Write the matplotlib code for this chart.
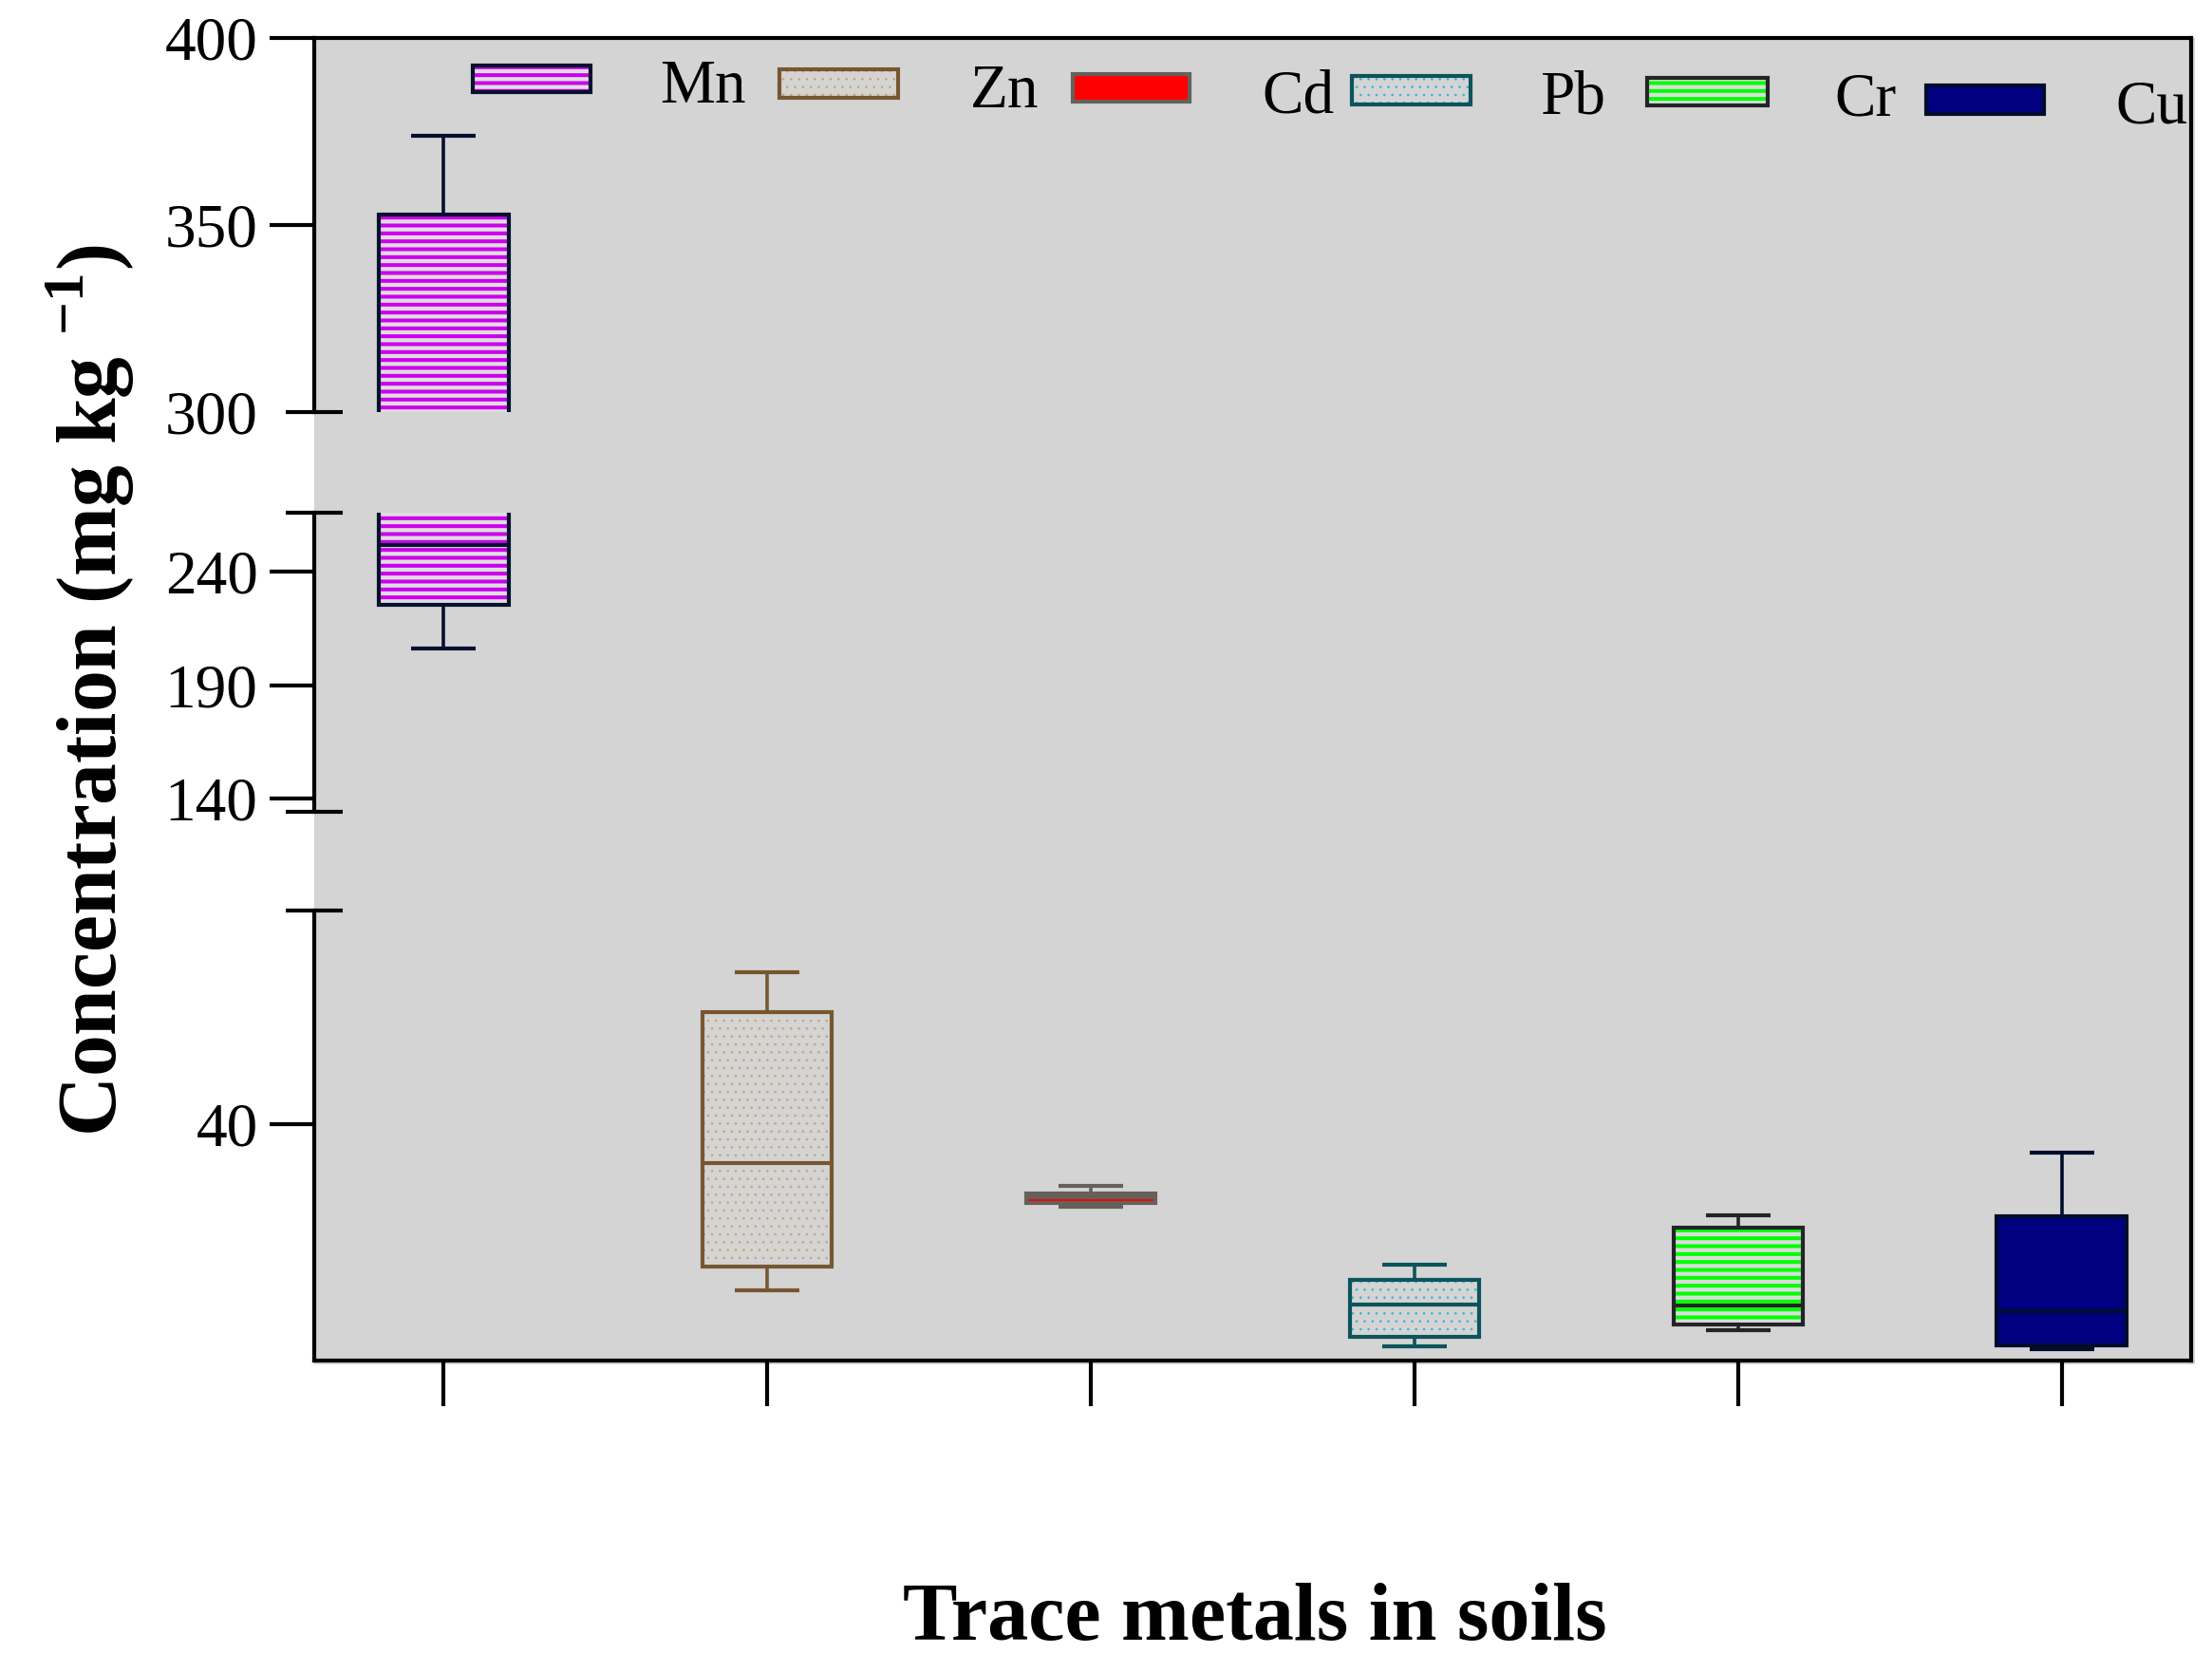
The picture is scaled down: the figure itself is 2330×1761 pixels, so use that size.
import matplotlib
matplotlib.use("Agg")
import matplotlib.pyplot as plt
from matplotlib.patches import Rectangle

# ---------------- data ----------------
metals = ["Mn", "Zn", "Cd", "Pb", "Cr", "Cu"]
q1 = [225.3, 15.8, 26.7, 3.95, 6.05, 2.56]
med = [251.8, 33.4, 27.6, 9.47, 9.3, 8.3]
q3 = [352.9, 59.0, 28.3, 13.6, 22.4, 24.4]
whislo = [206.1, 11.9, 26.0, 2.4, 5.1, 1.9]
whishi = [373.8, 65.7, 29.5, 16.2, 24.5, 35.2]

# segments of the broken y axis: (low, high, tick values)
seg_ranges = [(300, 400), (134.2, 266.2), (0, 76.1)]
seg_ticks = [[300, 350, 400], [140, 190, 240], [40]]

# ---------------- styles ----------------
face_colors = ["#dedede", "#d4d4d4", "#ff0000", "#d4d4d4", "#dcdcdc", "#000080"]
edge_colors = ["#06102e", "#775731", "#64615b", "#0c545c", "#222428", "#000c2c"]
hatch_colors = ["#cc00ee", "#c8a46e", None, "#2ab8d8", "#00ff00", None]
hatches = ["--", "..", None, "..", "--", None]

plt.rcParams["font.family"] = ["Liberation Serif", "DejaVu Serif"]
plt.rcParams["mathtext.fontset"] = "custom"
plt.rcParams["mathtext.rm"] = "Liberation Serif"
plt.rcParams["mathtext.bf"] = "Liberation Serif:bold"
plt.rcParams["hatch.linewidth"] = 2.9

W, H, DPI = 2330, 1761, 100
fig = plt.figure(figsize=(W / DPI, H / DPI), dpi=DPI)
fig.patch.set_facecolor("white")


def fx(px):
    return px / W


def fy(py):
    return 1 - py / H


L, R, T, B = 331, 2308, 40, 1432.6
seg_px = [(40, 434), (539.6, 854.8), (959.4, 1432.6)]  # (top px, bottom px)
positions = list(range(1, len(metals) + 1))
XLIM = (0.6, 6.4)

# grey "shadow" slightly bigger than the frame
fig.add_artist(Rectangle((fx(L), fy(B + 4)), fx(R + 4) - fx(L), fy(T) - fy(B + 4),
                         transform=fig.transFigure, facecolor="#d4d4d4",
                         edgecolor="none", zorder=-5))

bg = fig.add_axes([fx(L), fy(B), fx(R) - fx(L), fy(T) - fy(B)])
bg.set_facecolor("#d4d4d4")
bg.set_xlim(*XLIM)
bg.set_ylim(0, 1)
bg.set_yticks([])
bg.set_xticks(positions)
bg.set_xticklabels([])
bg.tick_params(axis="x", direction="out", length=34.5, width=3, color="black")
bg.spines["left"].set_visible(False)
for s in ["top", "right", "bottom"]:
    bg.spines[s].set_linewidth(3)
    bg.spines[s].set_color("black")

stats = [dict(med=m, q1=a, q3=b, whislo=lo, whishi=hi, fliers=[], label=n)
         for n, a, m, b, lo, hi in zip(metals, q1, med, q3, whislo, whishi)]

dx = 30 / (R - L)
hatch_lw_small = 0.6
nseg = len(seg_ranges)

for k, ((lo, hi), ticks, (ptop, pbot)) in enumerate(zip(seg_ranges, seg_ticks, seg_px)):
    ax = fig.add_axes([fx(L), fy(pbot), fx(R) - fx(L), fy(ptop) - fy(pbot)])
    ax.set_facecolor("none")
    ax.set_xlim(*XLIM)
    ax.set_ylim(lo, hi)
    for s in ["top", "right", "bottom"]:
        ax.spines[s].set_visible(False)
    ax.spines["left"].set_linewidth(3)
    ax.spines["left"].set_color("black")
    ax.set_xticks([])
    ax.set_yticks(ticks)
    ax.set_yticklabels([str(t) for t in ticks])
    ax.tick_params(axis="y", direction="out", length=33.8, width=3, labelsize=47,
                   pad=9, color="black")
    if k == 0:
        ax.yaxis.get_major_ticks()[0].tick1line.set_visible(False)

    # break marks (only where the axis is interrupted)
    ends = []
    if k > 0:
        ends.append(1)
    if k < nseg - 1:
        ends.append(0)
    for e in ends:
        ax.plot([-dx, dx], [e, e], transform=ax.transAxes, color="black", lw=3,
                clip_on=False, solid_capstyle="butt", zorder=10)

    # pass 1: fill + hatch
    b1 = ax.bxp(stats, positions=positions, widths=0.4, patch_artist=True,
                showcaps=False, showfliers=False, manage_ticks=False,
                boxprops=dict(linewidth=0), zorder=2)
    for ln in b1["whiskers"] + b1["medians"]:
        ln.set_visible(False)
    for i, patch in enumerate(b1["boxes"]):
        patch.set_facecolor(face_colors[i])
        if hatches[i]:
            patch.set_edgecolor(hatch_colors[i])
            patch.set_hatch(hatches[i])
            if hatches[i] == ".." and hasattr(patch, "set_hatch_linewidth"):
                patch.set_hatch_linewidth(hatch_lw_small)
        else:
            patch.set_edgecolor(face_colors[i])
        patch.set_linewidth(0)

    # pass 2: outlines, whiskers, caps, medians
    b2 = ax.bxp(stats, positions=positions, widths=0.4, patch_artist=True,
                showfliers=False, manage_ticks=False,
                boxprops=dict(facecolor="none", linewidth=3),
                whiskerprops=dict(linewidth=2.6),
                capprops=dict(linewidth=3),
                medianprops=dict(linewidth=3), zorder=3)
    for i in range(len(metals)):
        c = edge_colors[i]
        b2["boxes"][i].set_edgecolor(c)
        b2["boxes"][i].set_facecolor("none")
        for ln in (b2["whiskers"][2 * i], b2["whiskers"][2 * i + 1],
                   b2["caps"][2 * i], b2["caps"][2 * i + 1], b2["medians"][i]):
            ln.set_color(c)
            ln.set_solid_capstyle("butt")

# ---------------- legend (manual, staggered as in the original) ----------------
leg_patch_px = [(496, 624, 67.3, 99.3), (818.5, 947.8, 71, 104.7), (1127.5, 1255.5, 76, 109.3),
                (1421.7, 1551, 78.3, 111.7), (1733, 1863.6, 80, 112.7), (2027, 2155, 88.3, 121.7)]
leg_text_px = [(695, 108), (1021.6, 112.7), (1329, 118.3), (1622, 119.3), (1932.5, 121), (2228, 130)]

for i, name in enumerate(metals):
    x0, x1, y0, y1 = leg_patch_px[i]
    x0 += 2; x1 -= 2; y0 += 2; y1 -= 2
    rx, ry = fx(x0), fy(y1)
    rw, rh = fx(x1) - fx(x0), fy(y0) - fy(y1)
    fill = Rectangle((rx, ry), rw, rh, transform=fig.transFigure,
                     facecolor=face_colors[i],
                     edgecolor=hatch_colors[i] if hatches[i] else face_colors[i],
                     hatch=hatches[i], linewidth=0, zorder=20)
    if hatches[i] == ".." and hasattr(fill, "set_hatch_linewidth"):
        fill.set_hatch_linewidth(hatch_lw_small)
    fig.add_artist(fill)
    fig.add_artist(Rectangle((rx, ry), rw, rh, transform=fig.transFigure,
                             facecolor="none", edgecolor=edge_colors[i],
                             linewidth=3, zorder=21))
    tx, ty = leg_text_px[i]
    fig.text(fx(tx), fy(ty), name, fontsize=47, ha="left", va="baseline",
             color="black", zorder=22)

# ---------------- axis labels ----------------
fig.text(fx(95), fy(727), r"Concentration (mg kg $^{\mathbf{-1}}$)", rotation=90,
         fontsize=63, fontweight="bold", ha="center", va="center")
fig.text(fx(1322), fy(1727), "Trace metals in soils", fontsize=62,
         fontweight="bold", ha="center", va="baseline")

fig.savefig("out.png", dpi=DPI)
